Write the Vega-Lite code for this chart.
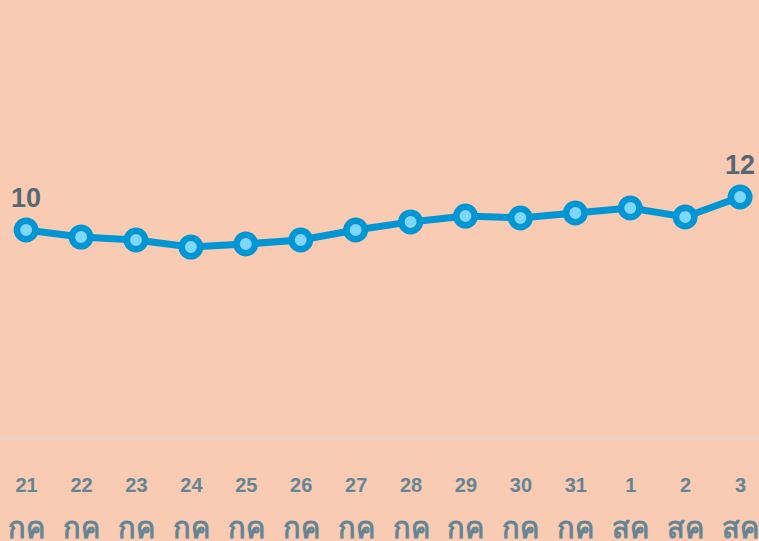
{
  "$schema": "https://vega.github.io/schema/vega-lite/v6.json",
  "width": 759,
  "height": 438,
  "padding": 0,
  "background": "#F8CBB2",
  "config": {"view": {"stroke": null}},
  "data": {
    "values": [
      {"day": "21 กค", "value": 10.0},
      {"day": "22 กค", "value": 9.66},
      {"day": "23 กค", "value": 9.52},
      {"day": "24 กค", "value": 9.18},
      {"day": "25 กค", "value": 9.33},
      {"day": "26 กค", "value": 9.52},
      {"day": "27 กค", "value": 10.0},
      {"day": "28 กค", "value": 10.39},
      {"day": "29 กค", "value": 10.67},
      {"day": "30 กค", "value": 10.58},
      {"day": "31 กค", "value": 10.82},
      {"day": "1 สค", "value": 11.06},
      {"day": "2 สค", "value": 10.63},
      {"day": "3 สค", "value": 11.59}
    ]
  },
  "resolve": {"axis": {"x": "independent"}},
  "layer": [
    {
      "mark": {"type": "line", "color": "#0096D4", "strokeWidth": 7},
      "encoding": {
        "x": {
          "field": "day", "type": "ordinal", "sort": null,
          "scale": {"type": "point", "padding": 0.41, "align": 0.58},
          "axis": {
            "orient": "bottom",
            "title": null, "labelAngle": 0,
            "labelExpr": "split(datum.value, ' ')[0]",
            "labelFont": "Liberation Sans", "labelFontSize": 20, "labelFontWeight": "bold",
            "labelColor": "#668594", "labelPadding": 37, "ticks": false,
            "domainColor": "#E2D6D0", "domainWidth": 2, "grid": false
          }
        },
        "y": {"field": "value", "type": "quantitative", "scale": {"domain": [0, 21.06], "nice": false, "zero": false}, "axis": null}
      }
    },
    {
      "mark": {"type": "point", "shape": "circle", "filled": false, "size": 340, "stroke": "#0096D4", "strokeWidth": 6.5, "fill": "#7FD6FF", "fillOpacity": 1, "opacity": 1},
      "encoding": {
        "x": {
          "field": "day", "type": "ordinal", "sort": null,
          "axis": {
            "orient": "bottom", "offset": 62,
            "title": null, "labelAngle": 0,
            "labelExpr": "split(datum.value, ' ')[1]",
            "labelFont": "Liberation Sans", "labelFontSize": 29, "labelFontWeight": "bold",
            "labelColor": "#668594", "labelPadding": 14, "ticks": false,
            "domain": false, "grid": false
          }
        },
        "y": {"field": "value", "type": "quantitative"}
      }
    },
    {
      "transform": [{"filter": "datum.day == '21 กค' || datum.day == '3 สค'"}],
      "mark": {"type": "text", "dy": -31, "font": "Liberation Sans", "fontSize": 27, "fontWeight": "bold", "color": "#566873"},
      "encoding": {
        "x": {"field": "day", "type": "ordinal", "sort": null, "axis": null},
        "y": {"field": "value", "type": "quantitative"},
        "text": {"field": "value", "type": "quantitative", "format": ".0f"}
      }
    }
  ]
}
